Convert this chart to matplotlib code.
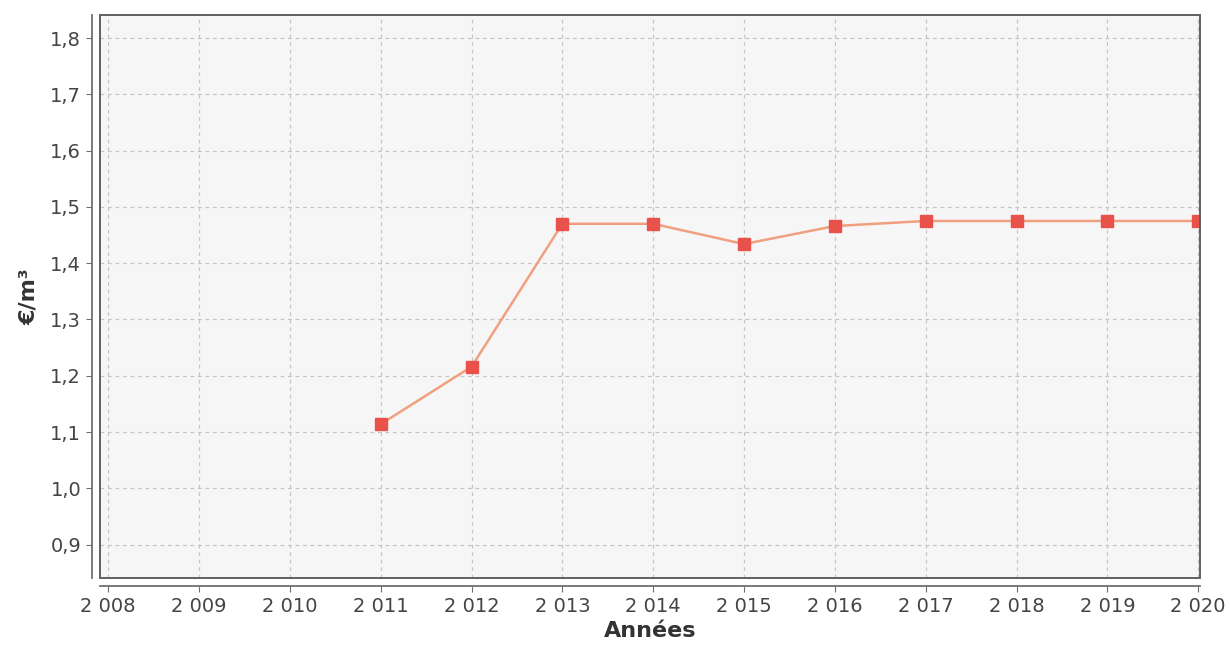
import matplotlib
matplotlib.use('Agg')
import matplotlib.pyplot as plt
from matplotlib.patches import Rectangle

# Prix de l'eau (€/m³) par année
annees = [2011, 2012, 2013, 2014, 2015, 2016, 2017, 2018, 2019, 2020]
prix = [1.114, 1.216, 1.470, 1.470, 1.434, 1.466, 1.475, 1.475, 1.475, 1.475]

x_ticks = list(range(2008, 2021))
y_ticks = [0.9, 1.0, 1.1, 1.2, 1.3, 1.4, 1.5, 1.6, 1.7, 1.8]


# Format français : "2 008", "1,5"
def fr_year(v):
    s = str(int(v))
    return s[0] + ' ' + s[1:]


fig = plt.figure(figsize=(12.3, 6.5), dpi=100)
ax = fig.add_axes([0.0813, 0.111, 0.8943, 0.866])
ax.set_facecolor('#f7f6f6')

# Courbe et marqueurs
ax.plot(annees, prix, color='#f0a080', linewidth=1.8, zorder=3)
ax.plot(annees, prix, linestyle='none', marker='s', markersize=8,
        color='#e8524a', zorder=4)

ax.set_xlim(2007.91, 2020.02)
ax.set_ylim(0.841, 1.841)
ax.set_xticks(x_ticks)
ax.set_xticklabels([fr_year(v) for v in x_ticks])
ax.set_yticks(y_ticks)
ax.set_yticklabels([f'{v:.1f}'.replace('.', ',') for v in y_ticks])

ax.grid(True, linestyle=(0, (3, 3)), color='#c8c4c0', linewidth=0.9)
ax.set_axisbelow(True)

# Axes décalés du cadre du graphique
for side in ['top', 'right']:
    ax.spines[side].set_visible(False)
for side in ['left', 'bottom']:
    ax.spines[side].set_position(('outward', 6))
    ax.spines[side].set_color('#707070')
    ax.spines[side].set_linewidth(1.3)
ax.add_patch(Rectangle((0, 0), 1, 1, transform=ax.transAxes, fill=False,
                       edgecolor='#606060', linewidth=1.4, zorder=5,
                       clip_on=False))

ax.tick_params(axis='both', colors='#707070', labelcolor='#444444',
               labelsize=14, length=4)
ax.set_xlabel('Années', fontsize=16, fontweight='bold', color='#333333',
              labelpad=4)
ax.set_ylabel('€/m³', fontsize=16, fontweight='bold', color='#333333',
              labelpad=8)

fig.savefig('out.png', dpi=100, facecolor='white')
